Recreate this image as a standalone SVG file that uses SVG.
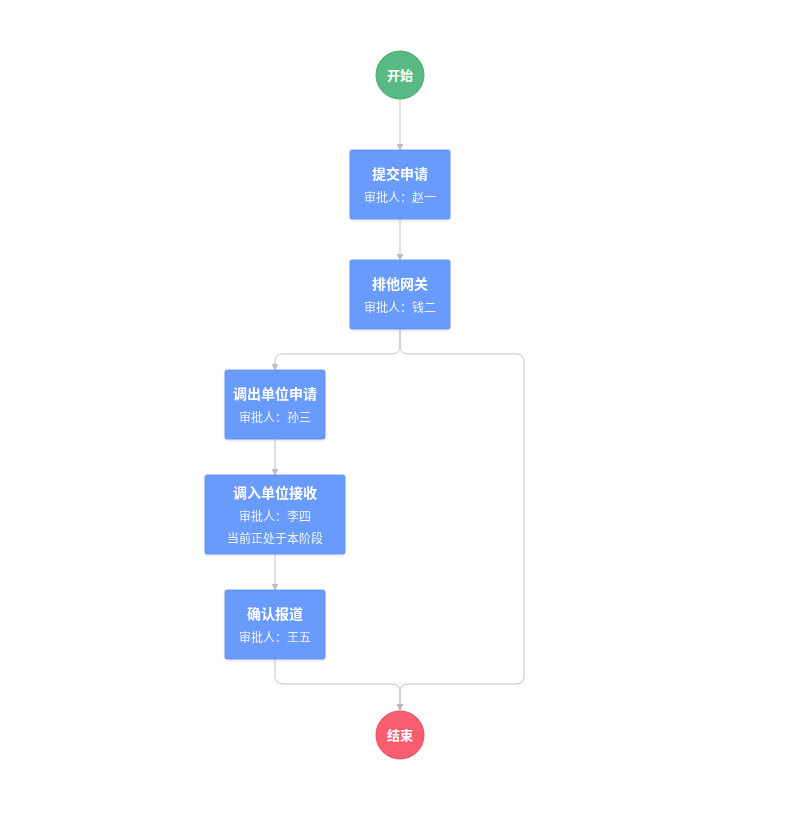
<svg xmlns="http://www.w3.org/2000/svg" width="800" height="816" viewBox="0 0 800 816">
<style>
.box{fill:#699bfd;stroke:#5a8df5;stroke-width:0.8}
.t{font-family:"Noto Sans CJK SC","Noto Sans",sans-serif;font-size:14px;font-weight:bold;fill:#ffffff;text-anchor:middle}
.s{font-family:"Noto Sans CJK SC","Noto Sans",sans-serif;font-size:12px;fill:#eef3ff;text-anchor:middle}
.c{font-family:"Noto Sans CJK SC","Noto Sans",sans-serif;font-size:13px;font-weight:bold;fill:#ffffff;text-anchor:middle}
.ln{fill:none;stroke:#c3c3c3;stroke-width:1}
</style>
<defs>
<marker id="arr" viewBox="0 0 10 10" refX="9" refY="5" markerWidth="7" markerHeight="7" markerUnits="userSpaceOnUse" orient="auto">
<path d="M0,0 L10,5 L0,10 z" fill="#bdbdbd"/>
</marker>
<filter id="sh" x="-10%" y="-10%" width="130%" height="130%">
<feDropShadow dx="0" dy="1" stdDeviation="1.2" flood-color="#000" flood-opacity="0.15"/>
</filter>
</defs>
<rect width="800" height="816" fill="#ffffff"/>
<g id="connectors">
<path class="ln" d="M400,99 V150" marker-end="url(#arr)"/>
<path class="ln" d="M400,219 V260" marker-end="url(#arr)"/>
<path class="ln" d="M400,329 V346 Q400,354 392,354 H283 Q275,354 275,362 V370" marker-end="url(#arr)"/>
<path class="ln" d="M400,329 V346 Q400,354 408,354 H516 Q524,354 524,362 V676 Q524,684 516,684 H408 Q400,684 400,692 V710" marker-end="url(#arr)"/>
<path class="ln" d="M275,439 V475" marker-end="url(#arr)"/>
<path class="ln" d="M275,554 V590" marker-end="url(#arr)"/>
<path class="ln" d="M275,659 V676 Q275,684 283,684 H392 Q400,684 400,692 V710" marker-end="url(#arr)"/>
</g>
<g id="start">
<circle cx="400" cy="75" r="24" fill="#58b985" stroke="#4aa876" stroke-width="1"/>
<text class="c" x="400" y="80">开始</text>
</g>
<g id="n1" filter="url(#sh)">
<rect class="box" x="350" y="150" width="100" height="69" rx="2"/>
<text class="t" x="400" y="179">提交申请</text>
<text class="s" x="400" y="202">审批人：赵一</text>
</g>
<g id="n2" filter="url(#sh)">
<rect class="box" x="350" y="260" width="100" height="69" rx="2"/>
<text class="t" x="400" y="289">排他网关</text>
<text class="s" x="400" y="312">审批人：钱二</text>
</g>
<g id="n3" filter="url(#sh)">
<rect class="box" x="225" y="370" width="100" height="69" rx="2"/>
<text class="t" x="275" y="399">调出单位申请</text>
<text class="s" x="275" y="422">审批人：孙三</text>
</g>
<g id="n4" filter="url(#sh)">
<rect class="box" x="205" y="475" width="140" height="79" rx="2"/>
<text class="t" x="275" y="498">调入单位接收</text>
<text class="s" x="275" y="521">审批人：李四</text>
<text class="s" x="275" y="543">当前正处于本阶段</text>
</g>
<g id="n5" filter="url(#sh)">
<rect class="box" x="225" y="590" width="100" height="69" rx="2"/>
<text class="t" x="275" y="619">确认报道</text>
<text class="s" x="275" y="642">审批人：王五</text>
</g>
<g id="end">
<circle cx="400" cy="735" r="24" fill="#f65d6e" stroke="#e64c5e" stroke-width="1"/>
<text class="c" x="400" y="740">结束</text>
</g>
</svg>
